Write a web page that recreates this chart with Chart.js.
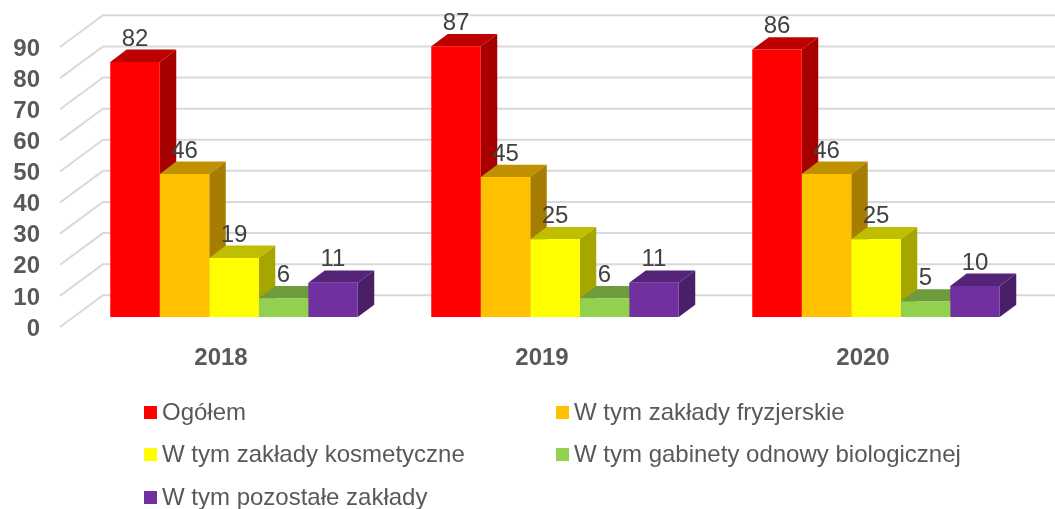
<!DOCTYPE html>
<html lang="pl">
<head>
<meta charset="utf-8">
<title>Zakłady</title>
<script src="https://cdn.jsdelivr.net/npm/chart.js@4"></script>
<style>
    html, body { margin: 0; padding: 0; background: #fff; }
    canvas { display: block; }
</style>
</head>
<body>
<canvas id="wykres" width="1055" height="509"></canvas>
<script>
const lata = ["2018", "2019", "2020"];
const ogolem = [82, 87, 86];
const fryzjerskie = [46, 45, 46];
const kosmetyczne = [19, 25, 25];
const gabinety = [6, 6, 5];
const pozostale = [11, 11, 10];

const nazwy = [
    "Ogółem",
    "W tym zakłady fryzjerskie",
    "W tym zakłady kosmetyczne",
    "W tym gabinety odnowy biologicznej",
    "W tym pozostałe zakłady"
];
const kolory = ["#FF0000", "#FFC000", "#FFFF00", "#92D050", "#7030A0"];
const seria = [ogolem, fryzjerskie, kosmetyczne, gabinety, pozostale];

const FONT = '"Liberation Sans", Arial, sans-serif';
const COR_TEKST = "#595959";
const COR_ETYKIETA = "#404040";
const COR_SIATKA = "#d9d9d9";

// glebokosc slupka 3D
const GLEB_X = 16.5;
const GLEB_Y = 12.3;

// przyciemnia kolor, sciany slupka
function ciemniej(hex, f) {
    const n = parseInt(hex.slice(1), 16);
    const r = Math.round((n >> 16 & 255) * f);
    const g = Math.round((n >> 8 & 255) * f);
    const b = Math.round((n & 255) * f);
    return `rgb(${r},${g},${b})`;
}

function wielokat(ctx, pkt, kolor) {
    ctx.fillStyle = kolor;
    ctx.beginPath();
    pkt.forEach((p, i) => i ? ctx.lineTo(p[0], p[1]) : ctx.moveTo(p[0], p[1]));
    ctx.closePath();
    ctx.fill();
}

// sciany tylne: siatka na tyle i skosy po lewej
const siatka3d = {
    id: "siatka3d",
    beforeDatasetsDraw(chart) {
        const { ctx, scales } = chart;
        const y = scales.y;
        ctx.save();
        ctx.strokeStyle = COR_SIATKA;
        ctx.lineWidth = 2;
        y.ticks.forEach(t => {
            const py = y.getPixelForValue(t.value);
            ctx.beginPath();
            ctx.moveTo(60, py + 10);
            ctx.lineTo(103, py - 21.7);
            ctx.lineTo(1055, py - 21.7);
            ctx.stroke();
        });
        ctx.restore();
    }
};

// gora i bok slupkow, przod rysuje sama biblioteka
const slupki3d = {
    id: "slupki3d",
    beforeDatasetsDraw(chart) {
        const ctx = chart.ctx;
        ctx.save();
        chart.data.datasets.forEach((ds, i) => {
            chart.getDatasetMeta(i).data.forEach(b => {
                const x0 = b.x - b.width / 2;
                const x1 = b.x + b.width / 2;
                wielokat(ctx, [[x0, b.y], [x0 + GLEB_X, b.y - GLEB_Y], [x1 + GLEB_X, b.y - GLEB_Y], [x1, b.y]], ciemniej(ds.backgroundColor, 0.75));
                wielokat(ctx, [[x1, b.y], [x1 + GLEB_X, b.y - GLEB_Y], [x1 + GLEB_X, b.base - GLEB_Y], [x1, b.base]], ciemniej(ds.backgroundColor, 0.65));
            });
        });
        ctx.restore();
    }
};

const etykiety = {
    id: "etykiety",
    afterDatasetsDraw(chart) {
        const ctx = chart.ctx;
        ctx.save();
        ctx.font = `24px ${FONT}`;
        ctx.fillStyle = COR_ETYKIETA;
        ctx.textAlign = "center";
        ctx.textBaseline = "middle";
        chart.data.datasets.forEach((ds, i) => {
            chart.getDatasetMeta(i).data.forEach((b, j) => {
                ctx.fillText(ds.data[j], b.x, b.y - 23);
            });
        });
        ctx.restore();
    }
};

// legenda w dwoch kolumnach
const legenda = {
    id: "legenda",
    afterDraw(chart) {
        const ctx = chart.ctx;
        const kolumny = [144, 556];
        const wiersze = [412.5, 454.5, 497.5];
        ctx.save();
        ctx.font = `24px ${FONT}`;
        ctx.textBaseline = "middle";
        chart.data.datasets.forEach((ds, i) => {
            const x = kolumny[i % 2];
            const y = wiersze[Math.floor(i / 2)];
            ctx.fillStyle = ds.backgroundColor;
            ctx.fillRect(x, y - 6.5, 13, 13);
            ctx.fillStyle = COR_TEKST;
            ctx.fillText(ds.label, x + 18, y + 1);
        });
        ctx.restore();
    }
};

new Chart(document.getElementById("wykres"), {
    type: "bar",
    data: {
        labels: lata,
        datasets: seria.map((dane, i) => ({
            label: nazwy[i],
            data: dane,
            backgroundColor: kolory[i],
            borderWidth: 0,
            categoryPercentage: 0.771,
            barPercentage: 1
        }))
    },
    options: {
        responsive: false,
        animation: false,
        layout: { padding: { left: 0, right: 18.5, top: 37, bottom: 0 } },
        plugins: {
            legend: { display: false },
            tooltip: { enabled: false }
        },
        scales: {
            x: {
                grid: { display: false },
                border: { display: false },
                afterFit: s => { s.height = 192; },
                ticks: {
                    color: COR_TEKST,
                    font: { family: FONT, size: 24, weight: "bold" },
                    padding: 19,
                    labelOffset: -13,
                    maxRotation: 0
                }
            },
            y: {
                min: 0,
                max: 90,
                grid: { display: false, drawTicks: false },
                border: { display: false },
                afterFit: s => { s.width = 73.5; s.paddingTop = 0; s.paddingBottom = 0; },
                ticks: {
                    stepSize: 10,
                    autoSkip: false,
                    color: COR_TEKST,
                    font: { family: FONT, size: 24, weight: "bold" },
                    padding: 33.5,
                    labelOffset: 12
                }
            }
        }
    },
    plugins: [siatka3d, slupki3d, etykiety, legenda]
});
</script>
</body>
</html>
